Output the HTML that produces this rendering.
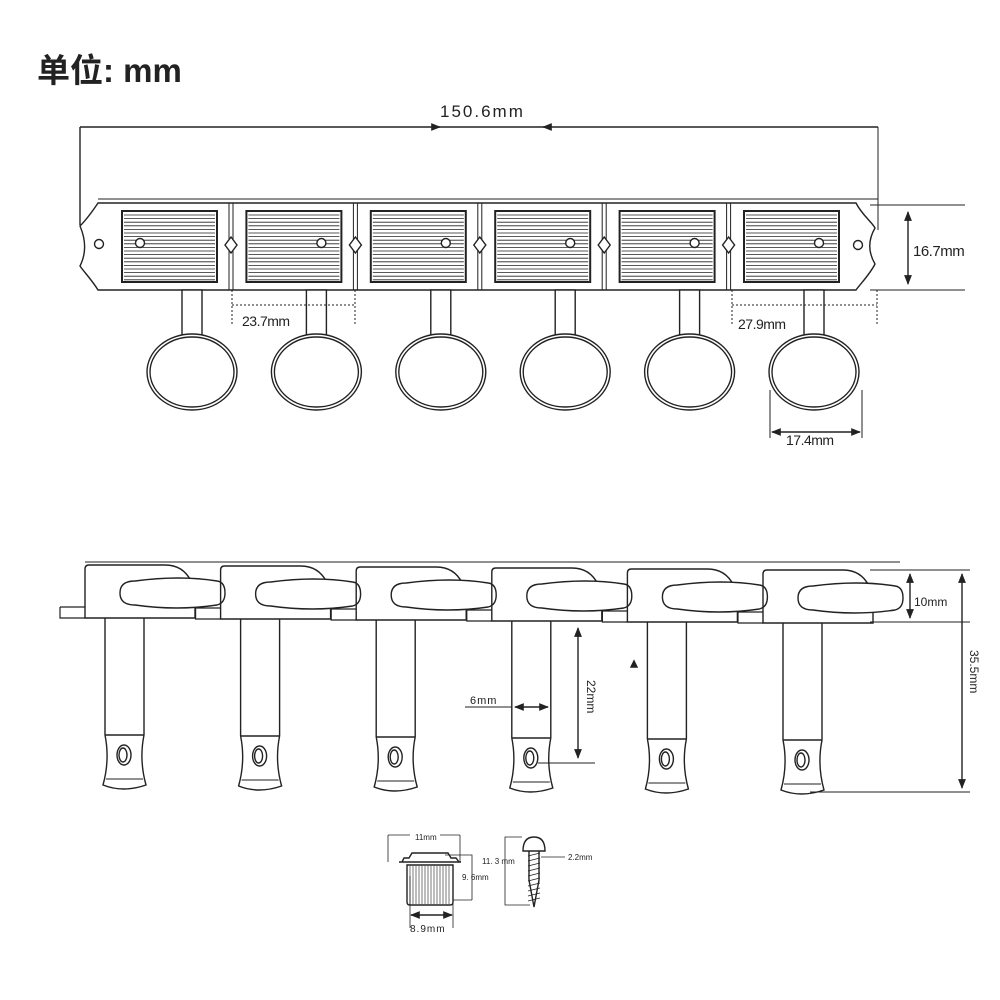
<!DOCTYPE html>
<html><head><meta charset="utf-8">
<style>
html,body{margin:0;padding:0;background:#fff;width:1000px;height:1000px;overflow:hidden}
svg{display:block}
text{font-family:"Liberation Sans","Noto Sans CJK SC",sans-serif;fill:#222}
</style></head>
<body>
<svg id="s" width="1000" height="1000" viewBox="0 0 1000 1000" xmlns="http://www.w3.org/2000/svg">
<defs>
<marker id="ar" viewBox="0 0 10 10" refX="9" refY="5" markerWidth="7" markerHeight="7" orient="auto-start-reverse"><path d="M0,1 L10,5 L0,9 z" fill="#222"/></marker>
</defs>
<text x="37" y="82" font-size="33" font-weight="bold">单位: mm</text>
<text x="440" y="117" font-size="17" letter-spacing="2">150.6mm</text>
<text x="913" y="256" font-size="15" letter-spacing="-0.5">16.7mm</text>
<text x="242" y="326" font-size="14" letter-spacing="-0.5">23.7mm</text>
<text x="738" y="329" font-size="14" letter-spacing="-0.5">27.9mm</text>
<text x="786" y="445" font-size="14" letter-spacing="-0.5">17.4mm</text>
<text x="914" y="606" font-size="12">10mm</text>
<text x="970" y="650" font-size="12" transform="rotate(90 970 650)">35.5mm</text>
<text x="587" y="680" font-size="12" transform="rotate(90 587 680)">22mm</text>
<text x="470" y="704" font-size="11" letter-spacing="1">6mm</text>
<text x="415" y="840" font-size="8">11mm</text>
<text x="462" y="880" font-size="8">9. 6mm</text>
<text x="410" y="932" font-size="10" letter-spacing="1">8.9mm</text>
<text x="482" y="864" font-size="8">11. 3 mm</text>
<text x="568" y="860" font-size="8">2.2mm</text>
<g id="g" fill="none" stroke="#222" stroke-width="1.4"></g>
</svg>
<script>
var g=document.getElementById('g'),o='';
function P(d,extra){o+='<path d="'+d+'" '+(extra||'')+'/>';}
P('M80,127 H878',''); P('M80,127 V225'); P('M878,127 V230','stroke-width="1"');
P('M438,127 h2','marker-end="url(#ar)"'); P('M545,127 h-2','marker-end="url(#ar)"');
P('M98,199 H878','stroke-width="1"');
P('M98,203 H856 C862,215 872,222 875,228 C868,240 868,252 875,264 C870,274 862,282 856,290 H98 C92,280 84,272 80,266 C86,254 86,240 80,226 C86,220 92,212 98,203 Z');
P('M870,205 H965','stroke-width="1"'); P('M870,290 H965','stroke-width="1"');
P('M908,212 V284','marker-start="url(#ar)" marker-end="url(#ar)"');
o+='<circle cx="99" cy="244" r="4.5"/><circle cx="858" cy="245" r="4.5"/>';
for(var i=0;i<6;i++){
 var x=122+124.4*i;
 o+='<rect x="'+x+'" y="211" width="95" height="71" stroke-width="2"/>';
 var l='';for(var y=215;y<281;y+=3.6)l+='M'+(x+2)+','+y.toFixed(1)+'h91';
 P(l,'stroke-width="0.8"');
 var hx=i==0?x+18:x+75;
 o+='<circle cx="'+hx+'" cy="243" r="4.5" fill="#fff"/>';
 if(i<5){var sx=x+109;P('M'+(sx-2)+',203 V290 M'+(sx+2)+',203 V290','stroke-width="1"');
  P('M'+sx+',237 l6,8 l-6,8 l-6,-8 z','fill="#fff"');}
 var px=x+60;
 o+='<rect x="'+px+'" y="290" width="20" height="48" fill="#fff"/>';
 o+='<ellipse cx="'+(px+10)+'" cy="372" rx="45" ry="38" fill="#fff"/><ellipse cx="'+(px+10)+'" cy="372" rx="42" ry="35"/>';
}
P('M232,290 V325 M355,290 V325 M232,305 H355','stroke-dasharray="2,2" stroke-width="1"');
P('M732,290 V325 M877,290 V325 M732,305 H877','stroke-dasharray="2,2" stroke-width="1"');
P('M770,390 V438 M862,390 V438','stroke-width="1"');
P('M772,432 H860','marker-start="url(#ar)" marker-end="url(#ar)"');
P('M85,562 H900','stroke-width="1"');
for(var i=0;i<6;i++){
 var x=85+135.6*i, t=565+i;
 P('M'+x+','+(t+4)+' q0,-4 4,-4 H'+(x+80)+' q18,0 26,16 M'+x+','+(t+4)+' V'+(t+53)+' H'+(x+110)+' V'+(t+40));
 P('M'+(x+35)+','+(t+28)+' q0,-12 15,-12 q45,-6 82,0 q8,1 8,12 q0,10 -8,12 q-40,6 -82,0 q-15,0 -15,-12 z','fill="#fff"');
 P('M'+(x-25)+','+(t+42)+' h25 M'+(x-25)+','+(t+42)+' V'+(t+53)+' h25','stroke-width="1.2"');
 var px=x+20;
 P('M'+px+','+(t+53)+' V'+(t+170)+' M'+(px+39)+','+(t+53)+' V'+(t+170)+' M'+px+','+(t+170)+' h39');
 P('M'+px+','+(t+170)+' q5,25 -2,50 q20,8 43,0 q-7,-25 -2,-50');
 P('M'+(px+1)+','+(t+214)+' h37','stroke-width="1"');
 o+='<ellipse cx="'+(px+19)+'" cy="'+(t+190)+'" rx="7" ry="10"/><ellipse cx="'+(px+18)+'" cy="'+(t+190)+'" rx="4" ry="7"/>';
}
P('M870,570 H970 M870,622 H970','stroke-width="1"');
P('M910,574 V618','marker-start="url(#ar)" marker-end="url(#ar)"');
P('M810,792 H970','stroke-width="1"');
P('M962,574 V788','marker-start="url(#ar)" marker-end="url(#ar)"');
P('M578,628 V758','marker-start="url(#ar)" marker-end="url(#ar)"');
P('M538,763 H595','stroke-width="1"');
P('M465,707 H512','stroke-width="1"');
P('M515,707 H548','marker-start="url(#ar)" marker-end="url(#ar)"');
P('M634,661 l-3,6 l6,0 z','fill="#222"');
P('M388,835 H410 M440,835 H460 M388,835 V862 M460,835 V862','stroke-width="0.8"');
P('M402,862 h57 l-3,-4 h-5 l-3,-5 h-36 l-3,5 h-5 z M399,862 h62');
P('M407,865 h46 v37 q0,3 -3,3 h-40 q-3,0 -3,-3 z');
var l='';for(var xx=410;xx<452;xx+=3)l+='M'+xx+',866v38';P(l,'stroke-width="0.6"');
P('M445,855 H472 V900 M453,900 H472','stroke-width="0.8"');
P('M410,876 V928 M453,876 V928','stroke-width="0.8"');
P('M411,915 H452','marker-start="url(#ar)" marker-end="url(#ar)"');
P('M523,851 q0,-14 11,-14 q11,0 11,14 z M529,851 V880 l5,27 l5,-27 V851');
var l='';for(var yy=856;yy<902;yy+=5)l+='M528,'+yy+' l12,-3';P(l,'stroke-width="0.8"');
P('M522,837 H505 V905 H530 M541,857 H565','stroke-width="0.8"');
g.innerHTML=o;
</script>
</body></html>
